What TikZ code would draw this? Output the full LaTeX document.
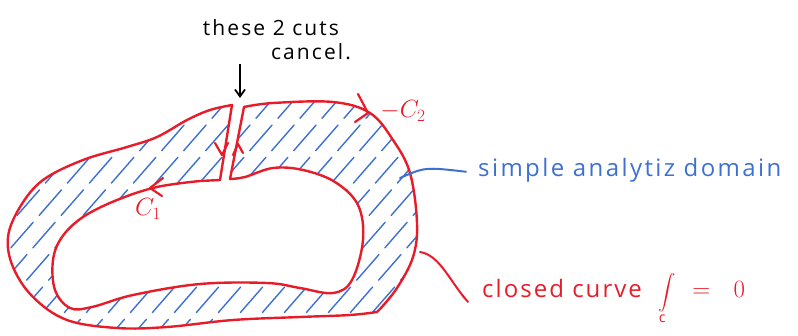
\documentclass[tikz,border=0pt]{standalone}
\usepackage{amsmath}
\usepackage{fontspec}
\setmainfont{Open Sans}
\newfontfamily\handfont[LetterSpace=10]{Open Sans}
\newfontfamily\handfontb[LetterSpace=8.5]{Open Sans}
\usetikzlibrary{arrows.meta}
\definecolor{hred}{RGB}{232,28,40}
\definecolor{hblue}{RGB}{62,112,212}
\begin{document}
\begin{tikzpicture}[x=1pt,y=-1pt,
  redline/.style={draw=hred,line width=2.4pt,line join=round,line cap=round},
  hatchline/.style={draw=hblue,line width=1.4pt,line cap=round,dash pattern=on 34pt off 9pt},
  bluelink/.style={draw=hblue,line width=2pt,line cap=round},
  redlink/.style={draw=hred,line width=2pt,line cap=round},
  tip/.style={draw=hred,line width=2.2pt,line cap=round,line join=round},
  blacktext/.style={text=black,font=\handfont\fontsize{21}{25}\selectfont,inner sep=0pt},
  bluetext/.style={text=hblue,font=\handfont\fontsize{24}{28}\selectfont,inner sep=0pt},
  redtext/.style={text=hred,font=\handfontb\fontsize{24}{28}\selectfont,inner sep=0pt},
  pointer/.style={draw=black,line width=1.8pt,-{Straight Barb[length=7pt,width=10pt]}}]
\useasboundingbox (0,0) rectangle (798,335);
% domain with the cut
\path[save path=\dom]
  plot[smooth,tension=0.6] coordinates {(244,107) (273,103) (333,102) (370,113) (393,140) (410,173) (417,223) (413,257) (397,288) (380,309)}
  -- plot[smooth,tension=0.6] coordinates {(377,312) (350,315) (300,317) (233,320) (167,327) (117,328) (67,320) (33,297) (13,267) (8,237) (20,207) (43,180) (83,160) (127,147) (157,137) (187,120) (210,110) (232,105)}
  -- (220,180)
  -- plot[smooth,tension=0.6] coordinates {(200,181) (157,187) (117,200) (83,217) (62,237) (53,260) (55,290) (70,308) (92,307) (133,295) (200,284) (267,283) (300,288) (333,293) (352,280) (363,240) (358,205) (335,182) (303,170) (273,168) (245,177) (230,179)}
  -- cycle;
\begin{scope}
  \clip[use path=\dom];
  \foreach \k in {-360,-338,...,480}
    \draw[hatchline] (\k,345) -- (\k+310,-10);
\end{scope}
\draw[redline,use path=\dom];
% arrowheads on the contour
\draw[tip] (358,94) -- (368,113) -- (355,122);
\draw[tip] (163,178) -- (150,188) -- (162,196);
\draw[tip] (215,143) -- (222,155) -- (228,143);
\draw[tip] (233,155) -- (238,144) -- (243,153);
% labels
\node[blacktext] (cuts) at (271,28) {these 2 cuts};
\node[blacktext] (cancel) at (311,52) {cancel.};
\coordinate (arrtail) at (240,64);
\coordinate (arrtip) at (240,98);
\draw[pointer] (arrtail) -- (arrtip);
\node[redtext] (c2) at (403,111) {$-C_2$};
\node[redtext] (c1) at (148,209) {$\displaystyle C_1$};
\node[bluetext,anchor=base west] (domain) at (478,176) {simple analytiz domain};
\coordinate (domin) at (400,178);
\draw[bluelink] (domin) .. controls (425,167) .. ([xshift=-12pt,yshift=-2pt]domain.west);
\node[redtext,anchor=base west] (closed) at (482,297) {closed curve\ \ {\fontsize{18}{20}\selectfont$\displaystyle\int\limits_{\!\text{\fontsize{14}{16}\selectfont c}}$}\ \ $=\ \ 0$};
\coordinate (closedin) at (420,252);
\draw[redlink] (closedin) .. controls (440,255) and (450,282) .. ([xshift=-14pt,yshift=-3pt]closed.west);
\end{tikzpicture}
\end{document}
